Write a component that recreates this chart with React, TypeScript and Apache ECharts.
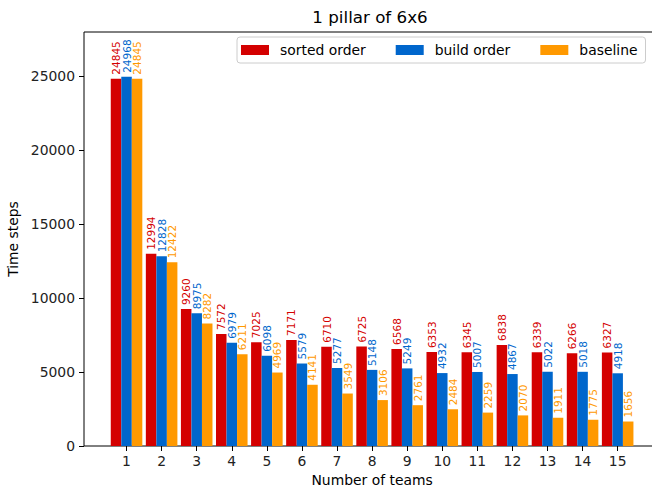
import React, { useEffect, useRef } from "react";
import * as echarts from "echarts";

const categories = ["1", "2", "3", "4", "5", "6", "7", "8", "9", "10", "11", "12", "13", "14", "15"];
const sortedOrder = [24845, 12994, 9260, 7572, 7025, 7171, 6710, 6725, 6568, 6353, 6345, 6838, 6339, 6266, 6327];
const buildOrder = [24968, 12828, 8975, 6979, 6098, 5579, 5277, 5148, 5249, 4932, 5007, 4867, 5022, 5018, 4918];
const baseline = [24845, 12422, 8282, 6211, 4969, 4141, 3549, 3106, 2761, 2484, 2259, 2070, 1911, 1775, 1656];
const yTicks = [0, 5000, 10000, 15000, 20000, 25000];

const FONT = "DejaVu Sans";
const RED = "#d40000";
const BLUE = "#0066cc";
const ORANGE = "#ff9900";

export default function App() {
  const ref = useRef<HTMLDivElement>(null);
  useEffect(() => {
    if (!ref.current) return;
    const chart = echarts.init(ref.current, undefined, { renderer: "svg" });
    const mkSeries = (name: string, data: number[], color: string) => ({
      name,
      type: "bar",
      xAxisIndex: 1,
      yAxisIndex: 1,
      data,
      barWidth: 10.52,
      barGap: "0%",
      itemStyle: { color },
      label: {
        show: true,
        position: "top",
        rotate: 90,
        align: "left",
        verticalAlign: "middle",
        distance: 4,
        fontSize: 10.5,
        fontFamily: FONT,
        color,
      },
    });
    chart.setOption({
      animation: false,
      backgroundColor: "#fff",
      textStyle: { fontFamily: FONT },
      graphic: [
        {
          type: "text",
          x: 370,
          y: 17,
          style: {
            text: "1 pillar of 6x6",
            fontSize: 16.7,
            fontFamily: FONT,
            fill: "#000",
            textAlign: "center",
            textVerticalAlign: "middle",
          },
        },
      ],
      legend: {
        left: 237,
        top: 37,
        padding: [6, 8, 6, 4],
        itemWidth: 28,
        itemHeight: 10,
        itemGap: 30,
        icon: "rect",
        borderColor: "#cccccc",
        borderWidth: 1,
        borderRadius: 3,
        backgroundColor: "rgba(255,255,255,0.8)",
        textStyle: { fontSize: 13.9, fontFamily: FONT, color: "#000", padding: [0, 0, 0, 6] },
        data: ["sorted order", "build order", "baseline"],
      },
      grid: [
        { left: 84, top: 32, width: 575, height: 414, show: true, borderColor: "#000", borderWidth: 1, backgroundColor: "transparent", outerBoundsMode: "none", containLabel: false },
        { left: 109, top: 32, width: 526.2, height: 414, outerBoundsMode: "none", containLabel: false },
      ],
      xAxis: [
        { type: "value", gridIndex: 0, min: 0, max: 1, show: false },
        {
          type: "category",
          gridIndex: 1,
          data: categories,
          name: "Number of teams",
          nameLocation: "middle",
          nameGap: 27,
          nameTextStyle: { fontSize: 13.9, fontFamily: FONT, color: "#000" },
          axisLine: { show: false },
          axisTick: { show: true, alignWithLabel: true, length: 5, lineStyle: { color: "#000" } },
          axisLabel: { fontSize: 13.9, fontFamily: FONT, color: "#222", margin: 8 },
        },
      ],
      yAxis: [
        {
          type: "value",
          gridIndex: 0,
          min: 0,
          max: 28000,
          interval: 5000,
          name: "Time steps",
          nameLocation: "middle",
          nameGap: 57,
          nameTextStyle: { fontSize: 13.9, fontFamily: FONT, color: "#000" },
          splitLine: { show: false },
          axisLine: { show: false },
          axisTick: { show: true, length: 5, lineStyle: { color: "#000" }, customValues: yTicks },
          axisLabel: {
            fontSize: 13.9,
            fontFamily: FONT,
            color: "#222",
            margin: 9,
            customValues: yTicks,
            formatter: (v: number) => String(v),
          },
        },
        { type: "value", gridIndex: 1, min: 0, max: 28000, show: false, splitLine: { show: false } },
      ],
      series: [
        mkSeries("sorted order", sortedOrder, RED),
        mkSeries("build order", buildOrder, BLUE),
        mkSeries("baseline", baseline, ORANGE),
      ],
    });
    return () => chart.dispose();
  }, []);
  return (
    <div
      ref={ref}
      style={{ position: "fixed", left: 0, top: 0, width: 652, height: 491 }}
    />
  );
}
